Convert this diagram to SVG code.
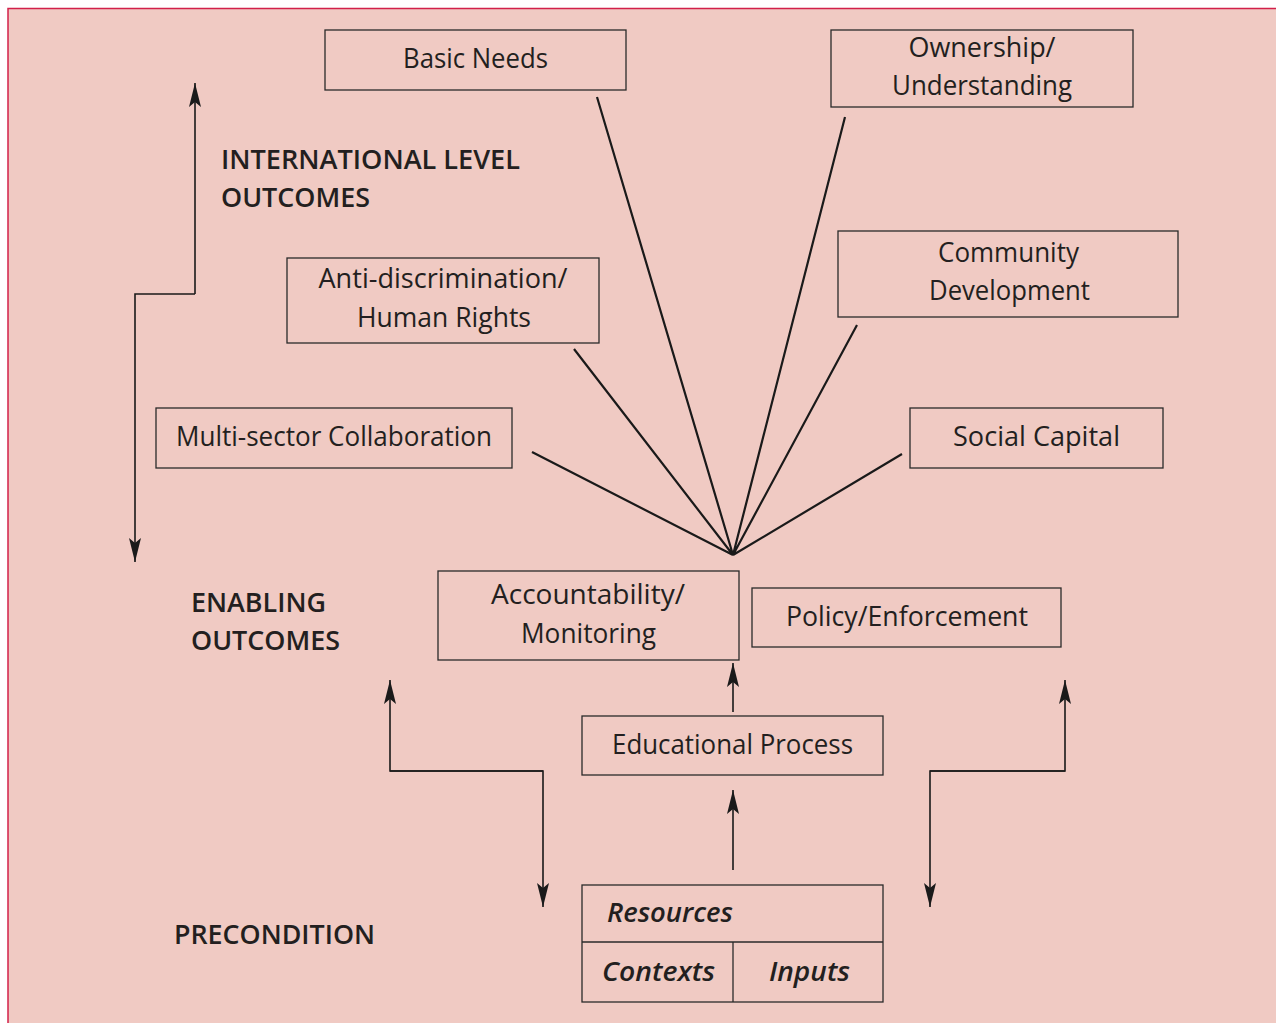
<svg xmlns="http://www.w3.org/2000/svg" width="1276" height="1023" viewBox="0 0 1276 1023">
<style>
.box{fill:none;stroke:#2a2a2a;stroke-width:1.3}
.t{font-family:"Open Sans","Liberation Sans",sans-serif;font-size:28px;fill:#231f20;text-anchor:middle}
.h{font-family:"Open Sans","Liberation Sans",sans-serif;font-size:27px;font-weight:600;fill:#231f20}
.i{font-family:"Open Sans","Liberation Sans",sans-serif;font-size:27px;font-weight:600;font-style:italic;fill:#231f20}
.ln{fill:none;stroke:#1a1a1a;stroke-width:2.2}
.ar{fill:none;stroke:#1a1a1a;stroke-width:1.6}
</style>
<defs>
<marker id="ah" viewBox="0 0 10 20" refX="9" refY="5" markerWidth="10" markerHeight="20" markerUnits="userSpaceOnUse" orient="auto">
<path d="M0,0 L10,5 L0,10 L3,5 Z" fill="#1a1a1a"/>
</marker>
<marker id="a" viewBox="0 0 24 12" refX="24" refY="6" markerWidth="24" markerHeight="12" markerUnits="userSpaceOnUse" orient="auto">
<path d="M0,0 L24,6 L0,12 L5,6 Z" fill="#1a1a1a"/>
</marker>
</defs>
<rect x="0" y="0" width="1276" height="1023" fill="#ffffff"/>
<rect x="8" y="8" width="1268" height="1015" fill="#f0cac3"/>
<path d="M8,1023 L8,8.5 L1276,8.5" fill="none" stroke="#d2204a" stroke-width="1.5"/>

<g id="labels">
<text class="h" x="221" y="169" textLength="299" lengthAdjust="spacingAndGlyphs">INTERNATIONAL LEVEL</text>
<text class="h" x="221" y="207" textLength="149" lengthAdjust="spacingAndGlyphs">OUTCOMES</text>
<text class="h" x="191" y="612" textLength="135" lengthAdjust="spacingAndGlyphs">ENABLING</text>
<text class="h" x="191" y="650" textLength="149" lengthAdjust="spacingAndGlyphs">OUTCOMES</text>
<text class="h" x="174" y="944" textLength="201" lengthAdjust="spacingAndGlyphs">PRECONDITION</text>
</g>

<g id="connectors">
<path class="ln" d="M532,452 L733,555 M574,349 L733,555 M597,97 L733,555 M845,117 L733,555 M857,325 L733,555 M902,454 L733,555"/>
<path class="ar" d="M195,294 L195,83" marker-end="url(#a)"/>
<path class="ar" d="M195,294 L135,294 L135,562" marker-end="url(#a)"/>
<path class="ar" d="M733,712 L733,663" marker-end="url(#a)"/>
<path class="ar" d="M733,870 L733,790" marker-end="url(#a)"/>
<path class="ar" d="M543,771 L390,771 L390,680" marker-end="url(#a)"/>
<path class="ar" d="M390,771 L543,771 L543,907" marker-end="url(#a)"/>
<path class="ar" d="M930,771 L1065,771 L1065,680" marker-end="url(#a)"/>
<path class="ar" d="M1065,771 L930,771 L930,907" marker-end="url(#a)"/>
</g>

<g id="basic-needs">
<rect class="box" x="325" y="30" width="301" height="60"/>
<text class="t" x="475.5" y="68" textLength="145" lengthAdjust="spacingAndGlyphs">Basic Needs</text>
</g>
<g id="ownership">
<rect class="box" x="831" y="30" width="302" height="77"/>
<text class="t" x="982" y="57" textLength="147" lengthAdjust="spacingAndGlyphs">Ownership/</text>
<text class="t" x="982" y="95" textLength="180" lengthAdjust="spacingAndGlyphs">Understanding</text>
</g>
<g id="anti-discrimination">
<rect class="box" x="287" y="258" width="312" height="85"/>
<text class="t" x="443" y="288" textLength="249" lengthAdjust="spacingAndGlyphs">Anti-discrimination/</text>
<text class="t" x="444" y="327" textLength="174" lengthAdjust="spacingAndGlyphs">Human Rights</text>
</g>
<g id="community">
<rect class="box" x="838" y="231" width="340" height="86"/>
<text class="t" x="1008.5" y="262" textLength="141" lengthAdjust="spacingAndGlyphs">Community</text>
<text class="t" x="1009.5" y="300" textLength="161" lengthAdjust="spacingAndGlyphs">Development</text>
</g>
<g id="multi-sector">
<rect class="box" x="156" y="408" width="356" height="60"/>
<text class="t" x="334" y="446" textLength="316" lengthAdjust="spacingAndGlyphs">Multi-sector Collaboration</text>
</g>
<g id="social-capital">
<rect class="box" x="910" y="408" width="253" height="60"/>
<text class="t" x="1036.5" y="446" textLength="167" lengthAdjust="spacingAndGlyphs">Social Capital</text>
</g>
<g id="accountability">
<rect class="box" x="438" y="571" width="301" height="89"/>
<text class="t" x="588" y="604" textLength="194" lengthAdjust="spacingAndGlyphs">Accountability/</text>
<text class="t" x="588.5" y="643" textLength="135" lengthAdjust="spacingAndGlyphs">Monitoring</text>
</g>
<g id="policy">
<rect class="box" x="752" y="588" width="309" height="59"/>
<text class="t" x="907" y="626" textLength="242" lengthAdjust="spacingAndGlyphs">Policy/Enforcement</text>
</g>
<g id="educational-process">
<rect class="box" x="582" y="716" width="301" height="59"/>
<text class="t" x="732.5" y="754" textLength="241" lengthAdjust="spacingAndGlyphs">Educational Process</text>
</g>
<g id="preconditions">
<rect class="box" x="582" y="885" width="301" height="117"/>
<line class="box" x1="582" y1="942" x2="883" y2="942"/>
<line class="box" x1="733" y1="942" x2="733" y2="1002"/>
<text class="i" x="607" y="922" textLength="126" lengthAdjust="spacingAndGlyphs">Resources</text>
<text class="i" x="602" y="981" textLength="113" lengthAdjust="spacingAndGlyphs">Contexts</text>
<text class="i" x="769" y="981" textLength="81" lengthAdjust="spacingAndGlyphs">Inputs</text>
</g>
</svg>
